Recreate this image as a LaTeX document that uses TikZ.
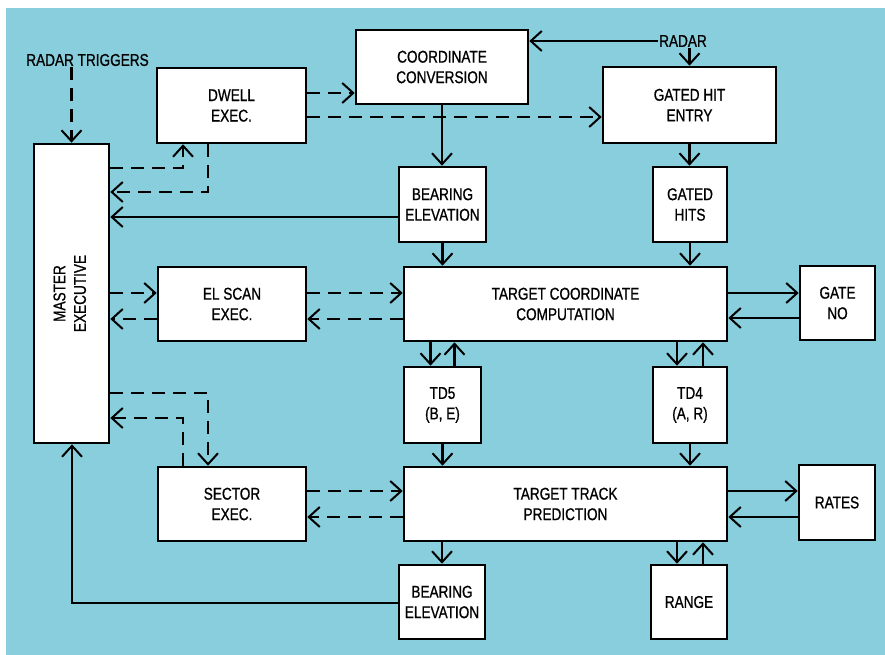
\documentclass[tikz,border=0pt]{standalone}
\usepackage{fontspec}
\setmainfont{Liberation Sans}[FakeStretch=0.8,FakeBold=0.8]
\usetikzlibrary{arrows.meta}
\definecolor{bgblue}{RGB}{136,206,220}
\begin{document}
\begin{tikzpicture}[x=1pt,y=-1pt,
  >={Straight Barb[length=11pt,width=20pt,line width=2pt]},
  box/.style={draw=black,fill=white,line width=2.6pt,inner sep=0pt,align=center,
    font=\fontsize{17}{20.5}\selectfont},
  lbl/.style={inner sep=1pt,font=\fontsize{17}{20.5}\selectfont},
  conn/.style={line width=2.3pt},
  dsh/.style={conn,dash pattern=on 13pt off 8pt},
  arr/.style={->}]
\useasboundingbox (0,0) rectangle (885,655);
\fill[white] (0,0) rectangle (885,655);
\fill[bgblue] (6,8) rectangle (885,655);

% nodes
\node[box,minimum width=75pt,minimum height=299pt] (master) at (71.5,293.5) {\rotatebox{90}{\begin{tabular}{@{}c@{}}MASTER\\EXECUTIVE\end{tabular}}};
\node[box,minimum width=149pt,minimum height=75pt] (dwell) at (231.5,105.5) {DWELL\\EXEC.};
\node[box,minimum width=172pt,minimum height=74pt] (coord) at (442,67) {COORDINATE\\CONVERSION};
\node[box,minimum width=173pt,minimum height=76pt] (ghe) at (689.5,105) {GATED HIT\\ENTRY};
\node[box,minimum width=87pt,minimum height=75pt] (bear1) at (442.5,204.5) {BEARING\\ELEVATION};
\node[box,minimum width=74pt,minimum height=75pt] (ghits) at (690,204.5) {GATED\\HITS};
\node[box,minimum width=148pt,minimum height=74pt] (elscan) at (232,304) {EL SCAN\\EXEC.};
\node[box,minimum width=323pt,minimum height=74pt] (tcc) at (565.5,304) {TARGET COORDINATE\\COMPUTATION};
\node[box,minimum width=75pt,minimum height=74pt] (gateno) at (837.5,303) {GATE\\NO};
\node[box,minimum width=77pt,minimum height=76pt] (td5) at (442.5,405) {TD5\\(B, E)};
\node[box,minimum width=74pt,minimum height=76pt] (td4) at (690,405) {TD4\\(A, R)};
\node[box,minimum width=148pt,minimum height=74pt] (sector) at (232,504) {SECTOR\\EXEC.};
\node[box,minimum width=323pt,minimum height=74pt] (ttp) at (565.5,504) {TARGET TRACK\\PREDICTION};
\node[box,minimum width=76pt,minimum height=75pt] (rates) at (837,502.5) {RATES};
\node[box,minimum width=86pt,minimum height=74pt] (bear2) at (442,602) {BEARING\\ELEVATION};
\node[box,minimum width=76pt,minimum height=74pt] (range) at (689,602) {RANGE};

\node[lbl] (rt) at (87.5,60) {RADAR TRIGGERS};
\node[lbl] (radar) at (683,41) {RADAR};

% bend points
\coordinate (b1) at (183,168);
\coordinate (b2) at (208,192);
\coordinate (b3) at (208,393);
\coordinate (b4) at (183,418);
\coordinate (b5) at (72,603);

% top area
\draw[dsh,arr] (rt.south -| master.north) -- (master.north);
\draw[dsh,arr] ([yshift=12.5pt]dwell.east) coordinate (t) -- (t -| coord.west);
\draw[dsh,arr] ([yshift=-11.5pt]dwell.east) coordinate (t) -- (t -| ghe.west);
\draw[conn,arr] (radar.west) -- (radar.west -| coord.east);
\draw[conn,arr] (radar.south -| ghe.north) -- (ghe.north);
\draw[conn,arr] (coord.south) -- (coord.south |- bear1.north);
\draw[conn,arr] (ghe.south) -- (ghe.south |- ghits.north);
\draw[dsh,arr] (master.east |- b1) -- (b1) -- (b1 |- dwell.south);
\draw[dsh,arr] (b2 |- dwell.south) -- (b2) -- (b2 -| master.east);
\draw[conn,arr] ([yshift=-12.5pt]bear1.west) coordinate (t) -- (t -| master.east);
\draw[conn,arr] (bear1.south) -- (bear1.south |- tcc.north);
\draw[conn,arr] (ghits.south) -- (ghits.south |- tcc.north);

% middle row
\draw[dsh,arr] ([yshift=11pt]master.east |- elscan.east) coordinate (t) -- (t -| elscan.west);
\draw[dsh,arr] ([yshift=-15pt]elscan.west) coordinate (t) -- (t -| master.east);
\draw[dsh,arr] ([yshift=11pt]elscan.east) coordinate (t) -- (t -| tcc.west);
\draw[dsh,arr] ([yshift=-15pt]tcc.west) coordinate (t) -- (t -| elscan.east);
\draw[conn,arr] ([yshift=11pt]tcc.east) coordinate (t) -- (t -| gateno.west);
\draw[conn,arr] ([yshift=-15pt]gateno.west) coordinate (t) -- (t -| tcc.east);

% TD boxes
\draw[conn,arr] ([xshift=-12pt]td5.north) coordinate (t) ++(0,0) (t |- tcc.south) -- (t);
\draw[conn,arr] ([xshift=12pt]td5.north) -- ([xshift=12pt]td5.north |- tcc.south);
\draw[conn,arr] ([xshift=-13pt]td4.north) coordinate (t) ++(0,0) (t |- tcc.south) -- (t);
\draw[conn,arr] ([xshift=13pt]td4.north) -- ([xshift=13pt]td4.north |- tcc.south);
\draw[conn,arr] (td5.south) -- (td5.south |- ttp.north);
\draw[conn,arr] (td4.south) -- (td4.south |- ttp.north);

% sector
\draw[dsh,arr] (master.east |- b3) -- (b3) -- (b3 |- sector.north);
\draw[dsh,arr] (b4 |- sector.north) -- (b4) -- (b4 -| master.east);
\draw[dsh,arr] ([yshift=13pt]sector.east) coordinate (t) -- (t -| ttp.west);
\draw[dsh,arr] ([yshift=-13pt]ttp.west) coordinate (t) -- (t -| sector.east);
\draw[conn,arr] ([yshift=11.5pt]rates.west) coordinate (t) ++(0,0) (t -| ttp.east) -- (t);
\draw[conn,arr] ([yshift=-14.5pt]rates.west) coordinate (t) -- (t -| ttp.east);

% bottom
\draw[conn,arr] (bear2.north |- ttp.south) -- (bear2.north);
\draw[conn,arr] ([xshift=-12pt]range.north) coordinate (t) ++(0,0) (t |- ttp.south) -- (t);
\draw[conn,arr] ([xshift=14pt]range.north) -- ([xshift=14pt]range.north |- ttp.south);
\draw[conn,arr] (bear2.west |- b5) -- (b5) -- (b5 |- master.south);
\end{tikzpicture}
\end{document}
